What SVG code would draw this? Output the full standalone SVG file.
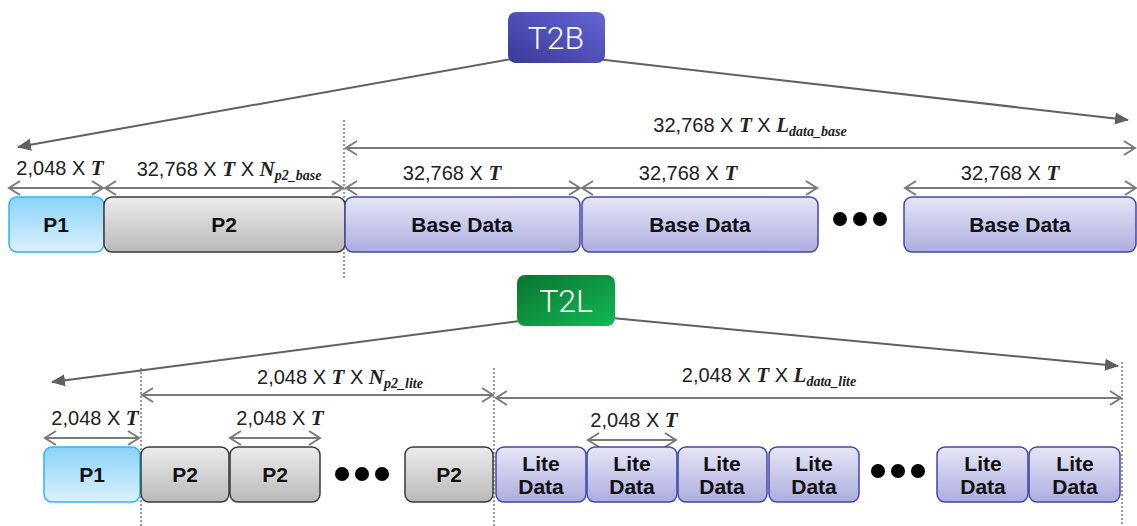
<svg xmlns="http://www.w3.org/2000/svg" width="1137" height="526" viewBox="0 0 1137 526">
<defs>
<linearGradient id="gP1" x1="0" y1="0" x2="0" y2="1"><stop offset="0" stop-color="#8ad3f8"/><stop offset="1" stop-color="#dcf1fc"/></linearGradient>
<linearGradient id="gP2" x1="0" y1="0" x2="0" y2="1"><stop offset="0" stop-color="#ececec"/><stop offset="1" stop-color="#b9b9b9"/></linearGradient>
<linearGradient id="gD" x1="0" y1="0" x2="0" y2="1"><stop offset="0" stop-color="#e6e6f6"/><stop offset="1" stop-color="#adade0"/></linearGradient>
<linearGradient id="gB" x1="0" y1="1" x2="1" y2="0"><stop offset="0" stop-color="#3a3a98"/><stop offset="1" stop-color="#6464d6"/></linearGradient>
<linearGradient id="gL" x1="0" y1="0" x2="1" y2="1"><stop offset="0" stop-color="#0a7430"/><stop offset="1" stop-color="#14b955"/></linearGradient>
<marker id="open" viewBox="-13 -8 15 16" refX="0" refY="0" markerWidth="15" markerHeight="16" markerUnits="userSpaceOnUse" orient="auto-start-reverse">
<path d="M-11,-7 L0,0 L-11,7" fill="none" stroke="#7a7a7a" stroke-width="2"/>
</marker>
<marker id="fill" viewBox="0 -6 14 12" refX="13" refY="0" markerWidth="14" markerHeight="12" markerUnits="userSpaceOnUse" orient="auto">
<path d="M0,-6 L14,0 L0,6 Z" fill="#606060"/>
</marker>
</defs>
<style>
.dim{stroke:#7a7a7a;stroke-width:2;fill:none;marker-start:url(#open);marker-end:url(#open)}
.lead{stroke:#606060;stroke-width:2;fill:none;marker-end:url(#fill)}
.dot{stroke:#666;stroke-width:1.3;stroke-dasharray:2 2;fill:none}
.lbl{font-family:"Liberation Sans",Arial,sans-serif;font-size:20px;fill:#222;text-anchor:middle}
.m{font-family:"Liberation Serif","Times New Roman",serif;font-weight:bold;font-style:italic;font-size:21px}
.sub{font-family:"Liberation Serif","Times New Roman",serif;font-weight:bold;font-style:italic;font-size:14px}
.bt{font-family:"Liberation Sans",Arial,sans-serif;font-size:21px;font-weight:bold;fill:#111;text-anchor:middle}
.hd{font-family:Roboto,"Liberation Sans",sans-serif;font-weight:300;font-size:32px;fill:#fff;text-anchor:middle}
.p1{fill:url(#gP1);stroke:#2bb8ef;stroke-width:1.5}
.p2{fill:url(#gP2);stroke:#3a3a3a;stroke-width:1.5}
.dd{fill:url(#gD);stroke:#4646a6;stroke-width:1.5}
</style>

<g id="connectors">
<line class="dot" x1="344" y1="120" x2="344" y2="280"/>
<line class="dot" x1="141" y1="368" x2="141" y2="526"/>
<line class="dot" x1="494" y1="368" x2="494" y2="526"/>
<line class="dot" x1="1122" y1="362" x2="1122" y2="526"/>
<line class="lead" x1="512" y1="59" x2="18" y2="147"/>
<line class="lead" x1="588" y1="58" x2="1128" y2="120"/>
<line class="lead" x1="520" y1="321" x2="52" y2="382"/>
<line class="lead" x1="612" y1="318" x2="1118" y2="366"/>
<line class="dim" x1="346" y1="148" x2="1135" y2="148"/>
<line class="dim" x1="9" y1="188" x2="103" y2="188"/>
<line class="dim" x1="105" y1="188" x2="343" y2="188"/>
<line class="dim" x1="346" y1="188" x2="580" y2="188"/>
<line class="dim" x1="582" y1="188" x2="817" y2="188"/>
<line class="dim" x1="905" y1="188" x2="1136" y2="188"/>
<line class="dim" x1="142" y1="395" x2="493" y2="395"/>
<line class="dim" x1="496" y1="398" x2="1121" y2="398"/>
<line class="dim" x1="45" y1="438" x2="139" y2="438"/>
<line class="dim" x1="230" y1="438" x2="320" y2="438"/>
<line class="dim" x1="588" y1="440" x2="676" y2="440"/>
</g>

<g id="dim-labels">
<text class="lbl" x="60" y="175">2,048 X <tspan class="m">T</tspan></text>
<text class="lbl" x="229" y="176">32,768 X <tspan class="m">T</tspan> X <tspan class="m">N</tspan><tspan class="sub" dy="4">p2_base</tspan></text>
<text class="lbl" x="452" y="180">32,768 X <tspan class="m">T</tspan></text>
<text class="lbl" x="688" y="180">32,768 X <tspan class="m">T</tspan></text>
<text class="lbl" x="1010" y="180">32,768 X <tspan class="m">T</tspan></text>
<text class="lbl" x="750" y="132">32,768 X <tspan class="m">T</tspan> X <tspan class="m">L</tspan><tspan class="sub" dy="4">data_base</tspan></text>
<text class="lbl" x="95" y="425">2,048 X <tspan class="m">T</tspan></text>
<text class="lbl" x="280" y="425">2,048 X <tspan class="m">T</tspan></text>
<text class="lbl" x="634" y="427">2,048 X <tspan class="m">T</tspan></text>
<text class="lbl" x="340" y="384">2,048 X <tspan class="m">T</tspan> X <tspan class="m">N</tspan><tspan class="sub" dy="4">p2_lite</tspan></text>
<text class="lbl" x="769" y="382">2,048 X <tspan class="m">T</tspan> X <tspan class="m">L</tspan><tspan class="sub" dy="4">data_lite</tspan></text>
</g>

<g id="T2B"><rect x="508" y="12" width="97" height="51" rx="8" fill="url(#gB)"/><text class="hd" x="556" y="49">T2B</text></g>
<g id="T2L"><rect x="517" y="275" width="98" height="51" rx="8" fill="url(#gL)"/><text class="hd" x="566" y="312">T2L</text></g>

<g id="top-P1"><rect class="p1" x="9" y="197" width="95" height="55" rx="8"/><text class="bt" x="56" y="232">P1</text></g>
<g id="top-P2"><rect class="p2" x="104" y="197" width="241" height="55" rx="8"/><text class="bt" x="224" y="232">P2</text></g>
<g id="top-D1"><rect class="dd" x="345" y="197" width="235" height="55" rx="8"/><text class="bt" x="462" y="232">Base Data</text></g>
<g id="top-D2"><rect class="dd" x="582" y="197" width="236" height="55" rx="8"/><text class="bt" x="700" y="232">Base Data</text></g>
<g id="top-dots" fill="#000"><circle cx="840" cy="219" r="7"/><circle cx="860" cy="219" r="7"/><circle cx="880" cy="219" r="7"/></g>
<g id="top-D3"><rect class="dd" x="904" y="197" width="232" height="55" rx="8"/><text class="bt" x="1020" y="232">Base Data</text></g>

<g id="bot-P1"><rect class="p1" x="44" y="447" width="96" height="55" rx="8"/><text class="bt" x="92" y="482">P1</text></g>
<g id="bot-P2a"><rect class="p2" x="141" y="447" width="88" height="55" rx="8"/><text class="bt" x="185" y="482">P2</text></g>
<g id="bot-P2b"><rect class="p2" x="230" y="447" width="90" height="55" rx="8"/><text class="bt" x="275" y="482">P2</text></g>
<g id="bot-dots1" fill="#000"><circle cx="342" cy="474" r="7"/><circle cx="362" cy="474" r="7"/><circle cx="382" cy="474" r="7"/></g>
<g id="bot-P2c"><rect class="p2" x="405" y="447" width="88" height="55" rx="8"/><text class="bt" x="449" y="482">P2</text></g>
<g id="bot-L1"><rect class="dd" x="496" y="447" width="90" height="55" rx="8"/><text class="bt" x="541" y="471">Lite</text><text class="bt" x="541" y="494">Data</text></g>
<g id="bot-L2"><rect class="dd" x="587" y="447" width="90" height="55" rx="8"/><text class="bt" x="632" y="471">Lite</text><text class="bt" x="632" y="494">Data</text></g>
<g id="bot-L3"><rect class="dd" x="678" y="447" width="89" height="55" rx="8"/><text class="bt" x="722" y="471">Lite</text><text class="bt" x="722" y="494">Data</text></g>
<g id="bot-L4"><rect class="dd" x="769" y="447" width="90" height="55" rx="8"/><text class="bt" x="814" y="471">Lite</text><text class="bt" x="814" y="494">Data</text></g>
<g id="bot-dots2" fill="#000"><circle cx="878" cy="471" r="7"/><circle cx="898" cy="471" r="7"/><circle cx="918" cy="471" r="7"/></g>
<g id="bot-L5"><rect class="dd" x="937" y="447" width="91" height="55" rx="8"/><text class="bt" x="983" y="471">Lite</text><text class="bt" x="983" y="494">Data</text></g>
<g id="bot-L6"><rect class="dd" x="1029" y="447" width="91" height="55" rx="8"/><text class="bt" x="1075" y="471">Lite</text><text class="bt" x="1075" y="494">Data</text></g>
</svg>
